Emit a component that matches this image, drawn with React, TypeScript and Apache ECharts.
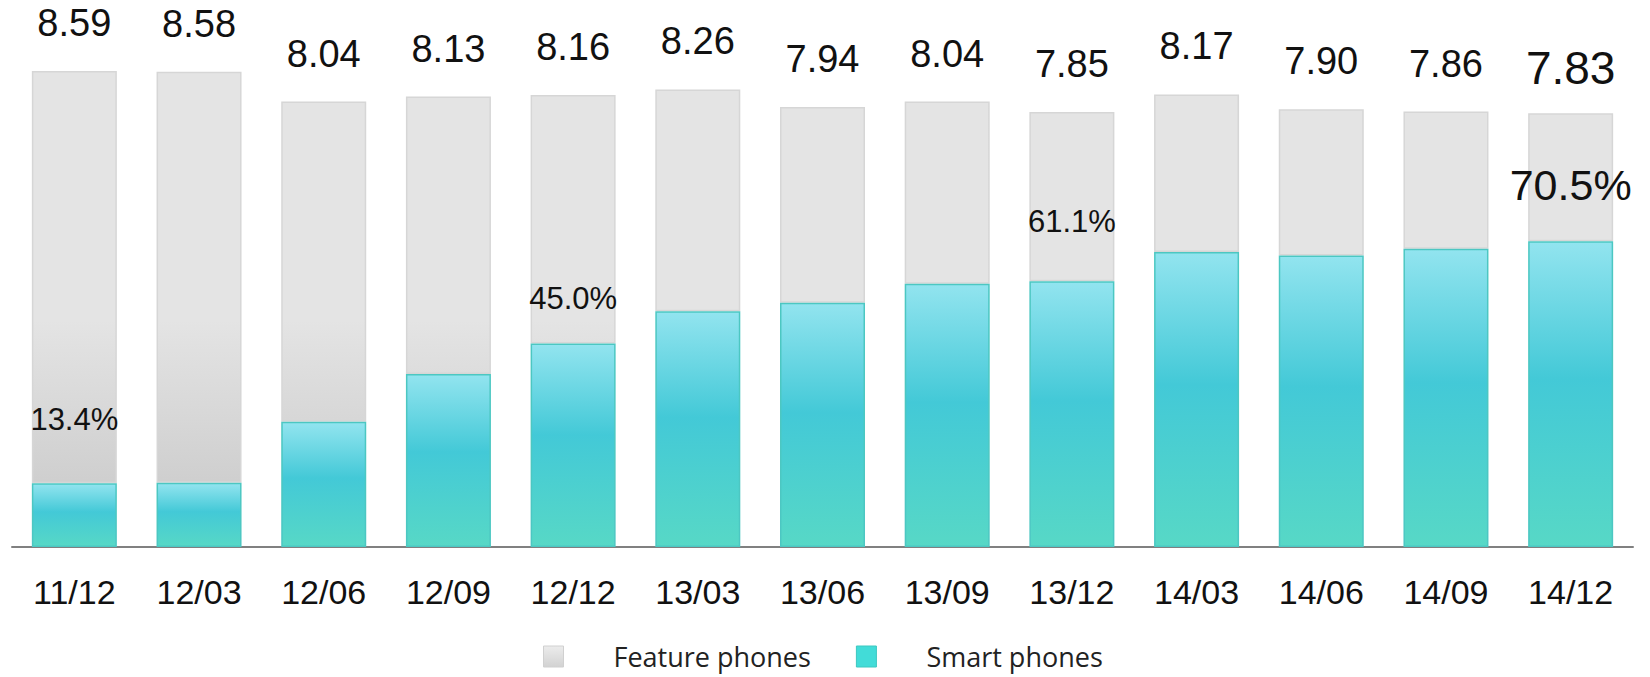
import React, { useEffect, useRef } from "react";
import * as echarts from "echarts";

const categories = ["11/12", "12/03", "12/06", "12/09", "12/12", "13/03", "13/06", "13/09", "13/12", "14/03", "14/06", "14/09", "14/12"];
const totals = [8.59, 8.58, 8.04, 8.13, 8.16, 8.26, 7.94, 8.04, 7.85, 8.17, 7.9, 7.86, 7.83];
const smartShare = [13.4, 13.5, 28.1, 38.4, 45.0, 51.5, 55.5, 59.1, 61.1, 65.2, 66.6, 68.5, 70.5];
const shareLabelIdx = [0, 4, 8, 12];
const seriesNames = ["Feature phones", "Smart phones"];

const FONT = "'Liberation Sans', Arial, sans-serif";

export default function App() {
  const ref = useRef<HTMLDivElement>(null);
  useEffect(() => {
    if (!ref.current) return;
    const chart = echarts.init(ref.current, null, { renderer: "svg" });
    const smartValues = totals.map((t, i) => (t * smartShare[i]) / 100);
    const featureValues = totals.map((t, i) => t - smartValues[i]);
    const last = totals.length - 1;

    const smartData = smartValues.map((v, i) => {
      if (shareLabelIdx.indexOf(i) < 0) return v;
      const big = i === last;
      const dist = i === 0 ? 48 : i === 4 ? 30 : i === 8 ? 44 : 35;
      return {
        value: v,
        label: {
          show: true,
          position: "top",
          distance: dist,
          fontSize: big ? 43 : 31,
          color: "#111",
          fontFamily: FONT,
          formatter: () => smartShare[i].toFixed(1) + "%",
        },
      };
    });

    const featureData = featureValues.map((v, i) => ({
      value: v,
      label: {
        show: true,
        position: "top",
        distance: i === last ? 22 : 29,
        fontSize: i === last ? 46 : 38,
        color: "#111",
        fontFamily: FONT,
        formatter: () => totals[i].toFixed(2),
      },
    }));

    const smartGradient = new echarts.graphic.LinearGradient(0, 0, 0, 1, [
      { offset: 0, color: "#92e4ef" },
      { offset: 0.45, color: "#43c9d7" },
      { offset: 1, color: "#57d8c6" },
    ]);
    const featureGradient = {
      type: "linear",
      x: 0,
      y: 320,
      x2: 0,
      y2: 480,
      global: true,
      colorStops: [
        { offset: 0, color: "#e4e4e4" },
        { offset: 1, color: "#cfcfcf" },
      ],
    };

    chart.setOption({
      animation: false,
      backgroundColor: "#ffffff",
      grid: { left: 12, right: 17, top: 48.4, bottom: 130 },
      legend: {
        left: 543,
        top: 643,
        padding: 0,
        itemWidth: 20,
        itemHeight: 21,
        itemGap: 45,
        textStyle: {
          fontFamily: "'Open Sans', 'Noto Sans', sans-serif",
          fontSize: 27,
          lineHeight: 24,
          color: "#222",
          padding: [0, 0, 0, 45],
        },
        data: [
          {
            name: seriesNames[0],
            icon: "rect",
            itemStyle: {
              color: new echarts.graphic.LinearGradient(0, 0, 0, 1, [
                { offset: 0, color: "#ececec" },
                { offset: 1, color: "#d2d2d2" },
              ]),
              borderColor: "#d0d0d0",
              borderWidth: 1,
            },
          },
          {
            name: seriesNames[1],
            icon: "rect",
            itemStyle: {
              color: "#42dcd8",
              borderColor: "#3cc8c0",
              borderWidth: 1,
            },
          },
        ],
      },
      xAxis: {
        type: "category",
        data: categories,
        axisTick: { show: false },
        axisLine: { show: true, lineStyle: { color: "#808080", width: 2 } },
        axisLabel: { fontSize: 34, color: "#111", fontFamily: FONT, margin: 28 },
      },
      yAxis: {
        type: "value",
        min: 0,
        max: 9,
        show: false,
        splitLine: { show: false },
      },
      series: [
        {
          name: seriesNames[1],
          type: "bar",
          stack: "total",
          barWidth: 85,
          data: smartData,
          itemStyle: {
            color: smartGradient,
            borderColor: "#4cc7c2",
            borderWidth: 1.5,
          },
          z: 3,
        },
        {
          name: seriesNames[0],
          type: "bar",
          stack: "total",
          barWidth: 85,
          data: featureData,
          itemStyle: {
            color: featureGradient,
            borderColor: "#d6d6d6",
            borderWidth: 1.5,
          },
          z: 2,
        },
      ],
    });
    return () => chart.dispose();
  }, []);
  return <div ref={ref} style={{ position: "absolute", left: 0, top: 0, width: 1650, height: 677 }} />;
}
